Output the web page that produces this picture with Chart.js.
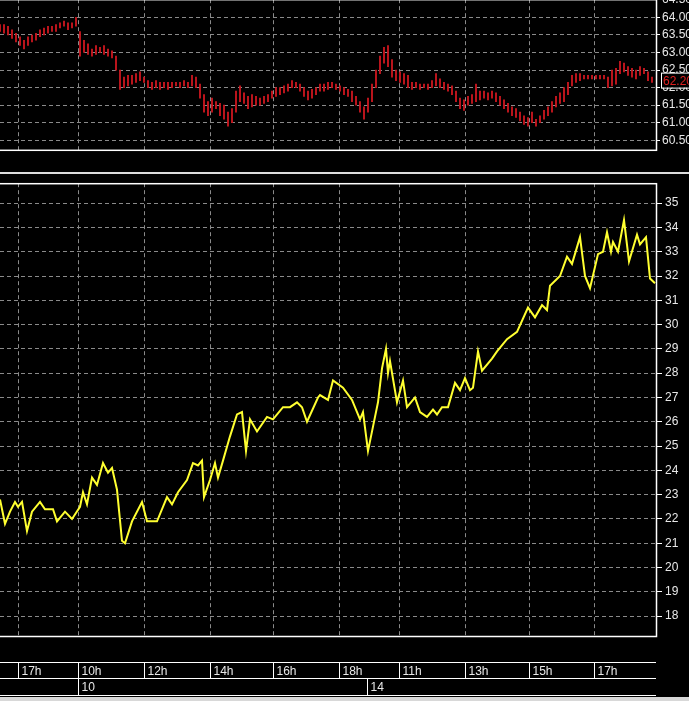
<!DOCTYPE html>
<html>
<head>
<meta charset="utf-8">
<script src="https://cdn.jsdelivr.net/npm/chart.js@4"></script>
<style>
  body { margin: 0; background: #000; width: 689px; height: 701px; overflow: hidden; position: relative; }
  #top { position: absolute; left: 0; top: -10px; }
  #bottom { position: absolute; left: 0; top: 173px; }
  #sep { position: absolute; left: 0; top: 172px; width: 689px; height: 2px; background: #ddd; }
</style>
</head>
<body>
<div id="sep"></div>
<div id="top"><canvas id="topChart" width="689" height="170"></canvas></div>
<div id="bottom"><canvas id="bottomChart" width="689" height="528"></canvas></div>
<script>
// hour ticks (bar positions) and labels
const hourT = [4.5, 19.5, 36, 52.5, 68.25, 84.75, 99.75, 116.25, 132.25, 148.5];
const hourLabels = ['17h', '10h', '12h', '14h', '16h', '18h', '11h', '13h', '15h', '17h'];
const dateT = [19.5, 91.75];
const dateLabels = ['10', '14'];

// top panel: bar ranges, one bar every step
const topLo = [63.6,63.55,63.5,63.4,63.3,63.2,63.1,63.2,63.3,63.35,63.45,63.5,63.55,63.6,63.6,63.7,63.75,63.65,63.7,63.75,
  62.9,63.0,62.95,62.9,62.95,63.0,62.95,62.9,62.85,62.5,61.95,62.0,62.05,62.1,62.15,62.2,62.15,62.0,61.95,62.0,
  61.95,62.0,61.95,62.0,62.05,62.0,62.05,62.0,62.05,62.0,61.7,61.3,61.2,61.3,61.4,61.2,61.1,60.9,61.0,61.3,
  61.6,61.55,61.4,61.45,61.5,61.5,61.55,61.6,61.7,61.75,61.8,61.85,61.9,62.0,62.0,61.9,61.75,61.65,61.7,61.8,
  61.9,61.9,61.95,62.0,61.95,61.9,61.8,61.75,61.6,61.5,61.3,61.1,61.3,61.6,62.0,62.4,62.7,62.6,62.3,62.2,
  62.15,62.1,62.0,61.95,62.0,61.95,62.0,61.95,62.0,62.05,62.0,61.95,61.9,61.8,61.6,61.4,61.35,61.5,61.55,61.6,
  61.65,61.7,61.65,61.7,61.6,61.5,61.4,61.3,61.2,61.15,61.05,60.95,60.9,61.0,60.9,61.0,61.1,61.2,61.3,61.45,
  61.55,61.6,61.8,62.05,62.15,62.2,62.25,62.25,62.25,62.25,62.25,62.25,62.0,62.05,62.1,62.4,62.45,62.35,62.3,62.25,
  62.35,62.4,62.2,62.15];
const topHi = [63.8,63.8,63.75,63.65,63.55,63.45,63.35,63.45,63.5,63.55,63.65,63.7,63.75,63.75,63.8,63.85,63.9,63.85,63.85,64.0,
  63.6,63.35,63.25,63.1,63.2,63.15,63.2,63.1,63.05,62.9,62.5,62.3,62.35,62.35,62.4,62.45,62.3,62.2,62.15,62.2,
  62.15,62.15,62.15,62.15,62.15,62.15,62.2,62.15,62.35,62.3,62.1,61.8,61.6,61.7,61.6,61.55,61.5,61.3,61.4,61.9,
  62.05,61.85,61.75,61.8,61.75,61.7,61.75,61.8,61.9,62.0,62.0,62.05,62.1,62.2,62.15,62.1,62.0,61.9,61.95,62.0,
  62.1,62.1,62.15,62.15,62.1,62.05,62.0,61.95,61.9,61.75,61.6,61.45,61.7,62.1,62.5,62.9,63.15,63.2,62.8,62.5,
  62.45,62.4,62.35,62.15,62.15,62.1,62.1,62.1,62.2,62.4,62.25,62.15,62.1,62.05,61.9,61.7,61.65,61.75,61.8,62.1,
  61.9,61.9,61.85,61.9,61.85,61.75,61.65,61.55,61.45,61.4,61.3,61.2,61.15,61.3,61.1,61.2,61.35,61.45,61.6,61.75,
  61.85,62.0,62.15,62.35,62.4,62.4,62.35,62.35,62.35,62.35,62.35,62.35,62.3,62.5,62.55,62.75,62.7,62.6,62.55,62.5,
  62.6,62.55,62.45,62.3];
const topT = topLo.map((v, i) => i);
const lastPrice = 62.20;

// bottom panel: line points
const lineT = [0,1.25,2.5,3.75,4.5,5.5,6.75,8,10,11.25,13.25,14.25,16.25,18,20,20.75,21.75,23,24.25,25.75,
  27,28,29.25,30.5,31.25,33,35.5,36.75,38,39.25,41.75,43,44.5,46.75,48.25,49.5,50.5,51,52.5,53.75,
  54.5,55.75,57.5,59.25,60.5,61.5,62.5,64.25,66.75,68.25,70.75,72.5,74.25,75.5,76.75,79.5,80,82,
  83.25,85.75,88,90,90.75,92,93.25,94.5,95.5,96.5,97,97.5,99.25,100.75,101.75,103.75,105,106.75,108.25,
  109.25,110.5,112,113.75,115,116.25,117.5,118.25,119.5,120.5,123,124.25,126.75,129.25,132,133.75,135.5,136.75,
  137.5,140,141.75,143,145,146.25,147.5,149.5,150.75,151.75,152.75,153.25,154.5,156,157.25,159.25,160,161.5,162.5,163.75];
const lineV = [22.8,21.8,22.3,22.7,22.5,22.7,21.5,22.3,22.7,22.4,22.4,21.9,22.3,22.0,22.5,23.1,22.6,23.7,23.4,24.3,
  23.9,24.1,23.2,21.1,21.0,21.9,22.7,21.9,21.9,21.9,22.9,22.6,23.1,23.6,24.3,24.2,24.4,22.9,23.6,24.3,
  23.7,24.4,25.4,26.3,26.4,24.8,26.1,25.6,26.2,26.1,26.6,26.6,26.8,26.6,26.0,27.0,27.1,26.9,
  27.7,27.4,26.9,26.1,26.4,24.8,25.8,26.8,28.2,29.0,28.0,28.5,26.8,27.7,26.6,27.0,26.4,26.2,26.5,26.3,
  26.6,26.6,27.6,27.3,27.8,27.3,27.4,28.9,28.1,28.6,28.9,29.4,29.7,30.7,30.3,30.8,30.6,31.6,32.0,
  32.8,32.5,33.6,32.0,31.5,32.9,33.0,33.8,33.0,33.4,33.0,34.3,32.6,33.7,33.3,33.6,31.9,31.7,31.7];

const TXT = '#e8e8e8';
const FONT = { family: 'Liberation Sans', size: 12 };
const GRID = '#8a8a8a';

const frame = {
  id: 'frame',
  afterDraw(chart) {
    const { ctx, chartArea: a } = chart;
    ctx.save();
    ctx.strokeStyle = '#fff';
    ctx.lineWidth = 1.5;
    ctx.strokeRect(-2, a.top + 0.5, a.right + 2.5, a.bottom - a.top - 1);
    ctx.restore();
  }
};

function xScale(showBox) {
  return {
    type: 'linear', min: 0, max: 164, offset: false,
    display: true,
    afterBuildTicks: s => { s.ticks = hourT.map(v => ({ value: v })); },
    afterFit: s => { s.height = showBox ? 64 : 0; },
    ticks: { display: false },
    grid: { color: GRID, drawTicks: false, offset: false },
    border: { display: false, dash: [4, 3] }
  };
}

const priceTag = {
  id: 'priceTag',
  afterDraw(chart) {
    const { ctx, chartArea: a } = chart;
    const y = chart.scales.y.getPixelForValue(lastPrice);
    ctx.save();
    ctx.fillStyle = '#000';
    ctx.fillRect(a.right + 5, y - 7, 34, 14);
    ctx.strokeStyle = '#fff';
    ctx.lineWidth = 1;
    ctx.strokeRect(a.right + 5.5, y - 7.5, 34, 15);
    ctx.fillStyle = '#e02020';
    ctx.font = '12px Liberation Sans';
    ctx.textBaseline = 'middle';
    ctx.fillText(lastPrice.toFixed(2), a.right + 7, y + 1);
    ctx.restore();
  }
};

new Chart(document.getElementById('topChart'), {
  type: 'bar',
  data: {
    datasets: [{
      data: topT.map((t, i) => ({ x: t, y: [topLo[i], topHi[i]] })),
      backgroundColor: '#c8161e',
      barThickness: 1.2
    }]
  },
  options: {
    responsive: false, animation: false,
    layout: { padding: 0 },
    plugins: { legend: { display: false }, tooltip: { enabled: false } },
    scales: {
      x: xScale(false),
      y: {
        position: 'right', min: 60.2, max: 64.52,
        afterBuildTicks: s => { s.ticks = [60.5, 61, 61.5, 62, 62.5, 63, 63.5, 64, 64.5].map(v => ({ value: v })); },
        afterFit: s => { s.width = 33; },
        ticks: { color: TXT, font: FONT, padding: 2, callback: v => v.toFixed(2) },
        grid: { color: GRID, tickColor: '#fff', tickLength: 4, tickBorderDash: [] },
        border: { display: false, dash: [4, 3] }
      }
    }
  },
  plugins: [frame, priceTag]
});

const timeBox = {
  id: 'timeBox',
  afterDraw(chart) {
    const { ctx, chartArea: a } = chart;
    const xs = chart.scales.x;
    const r1 = a.bottom + 25.5, r2 = r1 + 16, r3 = r2 + 17;
    ctx.save();
    ctx.strokeStyle = '#fff';
    ctx.lineWidth = 1;
    ctx.beginPath();
    [r1, r2, r3].forEach(y => { ctx.moveTo(0, y); ctx.lineTo(a.right, y); });
    ctx.fillStyle = TXT;
    ctx.font = '12px Liberation Sans';
    ctx.textBaseline = 'middle';
    hourT.forEach((t, i) => {
      const x = Math.round(xs.getPixelForValue(t)) + 0.5;
      ctx.moveTo(x, r1); ctx.lineTo(x, r2);
      ctx.fillText(hourLabels[i], x + 3, (r1 + r2) / 2 + 1);
    });
    dateT.forEach((t, i) => {
      const x = Math.round(xs.getPixelForValue(t)) + 0.5;
      ctx.moveTo(x, r2); ctx.lineTo(x, r3);
      ctx.fillText(dateLabels[i], x + 3, (r2 + r3) / 2 + 1);
    });
    ctx.stroke();
    ctx.fillStyle = '#d8d8d8';
    ctx.fillRect(0, r3 + 1.5, chart.width, 6);
    ctx.restore();
  }
};

new Chart(document.getElementById('bottomChart'), {
  type: 'line',
  data: {
    datasets: [{
      data: lineT.map((t, i) => ({ x: t, y: lineV[i] })),
      borderColor: '#ffff30',
      borderWidth: 2,
      pointRadius: 0,
      tension: 0
    }]
  },
  options: {
    responsive: false, animation: false,
    layout: { padding: 0 },
    plugins: { legend: { display: false }, tooltip: { enabled: false } },
    scales: {
      x: xScale(true),
      y: {
        position: 'right', min: 17.14, max: 35.82,
        afterBuildTicks: s => { s.ticks = []; for (let v = 18; v <= 35; v++) s.ticks.push({ value: v }); },
        afterFit: s => { s.width = 33; },
        ticks: { color: TXT, font: FONT, padding: 3 },
        grid: { color: GRID, tickColor: '#fff', tickLength: 6, tickBorderDash: [] },
        border: { display: false, dash: [4, 3] }
      }
    }
  },
  plugins: [frame, timeBox]
});
</script>
</body>
</html>
